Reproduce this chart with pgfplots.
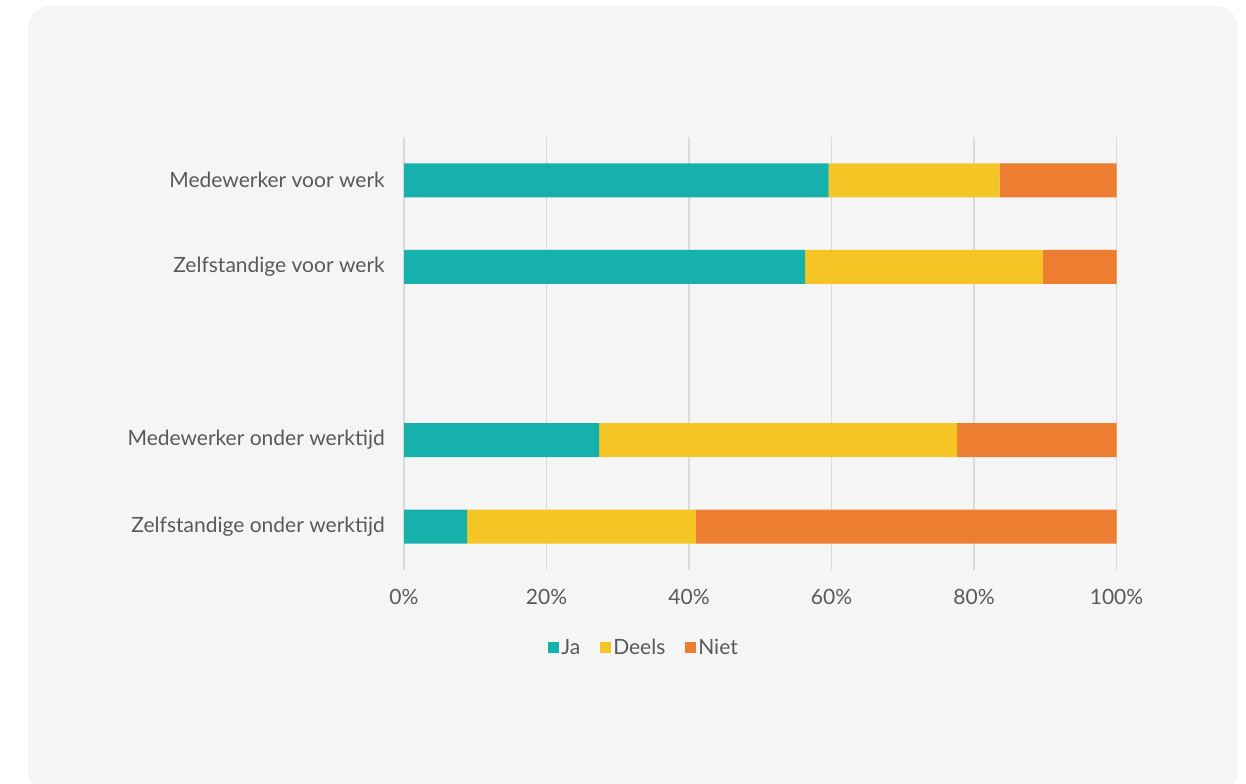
\documentclass[border=0pt]{standalone}
\usepackage{pgfplots}
\pgfplotsset{compat=1.18}
\usepackage{fontspec}
\setmainfont{Lato}
\definecolor{ja}{HTML}{17B1AC}
\definecolor{deels}{HTML}{F4C524}
\definecolor{niet}{HTML}{ED7D31}
\definecolor{bgc}{HTML}{F5F5F5}
\definecolor{gridc}{HTML}{DADADA}
\definecolor{textc}{HTML}{595959}
\begin{document}
\begin{tikzpicture}
\useasboundingbox (0,0) rectangle (1246bp,784bp);
\clip (0,0) rectangle (1246bp,784bp);
\fill[bgc, rounded corners=22bp] (28bp,-10bp) rectangle (1238bp,778bp);
\begin{axis}[
  at={(404bp,214bp)}, anchor=south west,
  scale only axis, width=712.5bp, height=433bp,
  xbar stacked, bar width=34bp,
  xmin=0, xmax=100, ymin=-0.5, ymax=4.5,
  xtick={0,20,40,60,80,100},
  xticklabel={\pgfmathprintnumber{\tick}\%},
  ytick={0,1,3,4},
  yticklabels={Zelfstandige onder werktijd, Medewerker onder werktijd, Zelfstandige voor werk, Medewerker voor werk},
  axis line style={draw=none},
  xmajorgrids, grid style={gridc, line width=1.5bp},
  major tick length=0pt, tick style={draw=none},
  /pgf/number format/assume math mode=true,
  ticklabel style={font=\fontsize{21bp}{24bp}\selectfont, text=textc},
  yticklabel style={inner sep=0pt, xshift=-19bp},
  xticklabel style={inner sep=0pt, yshift=-19bp},
  legend style={at={(0.337,-0.18)}, anchor=center, draw=none, fill=none,
    legend columns=3, font=\fontsize{21bp}{24bp}\selectfont, text=textc,
    /tikz/every even column/.append style={column sep=18bp}},
  legend image code/.code={\fill[#1] (0bp,-5.5bp) rectangle (11bp,5.5bp);},
]
\addplot[fill=ja, draw=none] coordinates {(8.85,0) (27.4,1) (56.3,3) (59.6,4)};
\addplot[fill=deels, draw=none] coordinates {(32.1,0) (50.2,1) (33.35,3) (24.0,4)};
\addplot[fill=niet, draw=none] coordinates {(59.05,0) (22.4,1) (10.35,3) (16.4,4)};
\legend{Ja, Deels, Niet}
\end{axis}
\end{tikzpicture}
\end{document}
